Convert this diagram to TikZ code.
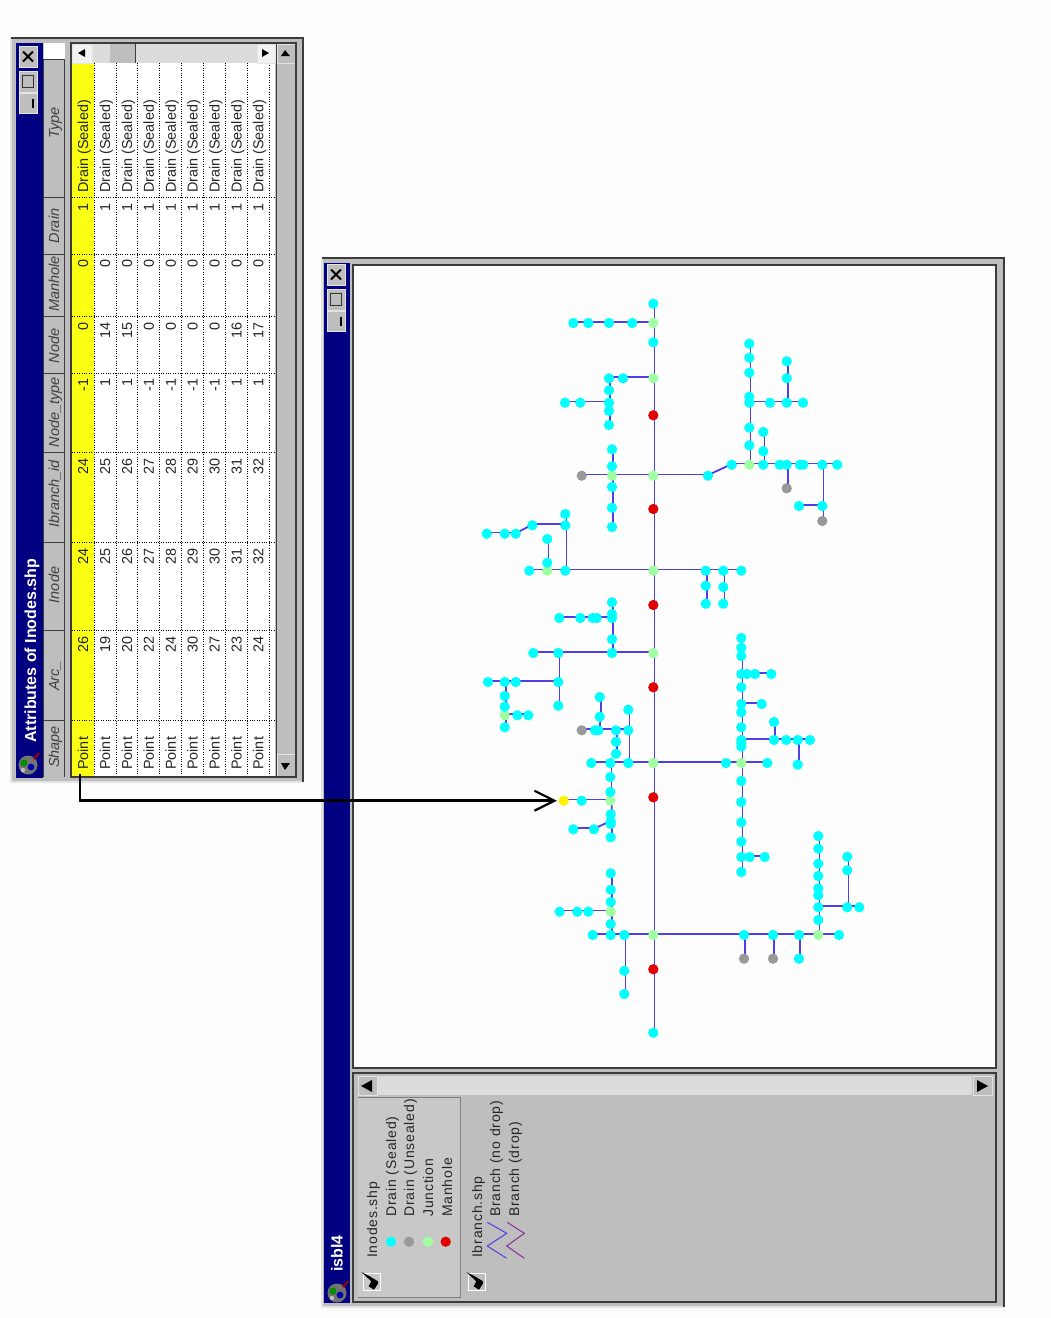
\documentclass[tikz,border=0pt]{standalone}
\usepackage{fontspec}
\setmainfont{Liberation Sans}
\newfontfamily\legendfont[LetterSpace=6]{Liberation Sans}
\usetikzlibrary{arrows.meta}

\definecolor{winnavy}{HTML}{000080}
\definecolor{wingray}{HTML}{BEBEBE}
\definecolor{windark}{HTML}{3C3C3C}
\definecolor{winpale}{HTML}{E4E4E4}
\definecolor{paper}{HTML}{FDFDFD}
\definecolor{track}{HTML}{DCDCDC}
\definecolor{rowyellow}{HTML}{FAFF14}
\definecolor{sealedc}{HTML}{00FFFF}
\definecolor{unsealedc}{HTML}{999999}
\definecolor{junctionc}{HTML}{A0FFA0}
\definecolor{manholec}{HTML}{E00000}
\definecolor{branchc}{HTML}{4F3FE6}
\definecolor{dropc}{HTML}{8A2F9C}

\pgfdeclarelayer{windows}
\pgfdeclarelayer{lines}
\pgfsetlayers{windows,lines,main}

\tikzset{
  dot/.style={circle,inner sep=0pt,minimum size=10.3pt},
  sealed/.style={dot,fill=sealedc},
  unsealed/.style={dot,fill=unsealedc},
  junction/.style={dot,fill=junctionc},
  manhole/.style={dot,fill=manholec},
  selected/.style={dot,fill=yellow},
  branch/.style={draw=branchc,line width=1.8pt,transform canvas={xshift=1.2pt,yshift=1.2pt}},
  frame/.style={fill=wingray,draw=none},
  edgedark/.style={draw=windark,line width=1.6pt},
  edgepale/.style={draw=winpale,line width=1.6pt},
  btn/.style={fill=wingray,draw=winpale,line width=.8pt},
  scrollbtn/.style={fill=wingray,draw=winpale,line width=.8pt},
  palebtn/.style={fill=black!5,draw=winpale,line width=.8pt},
  rowline/.style={draw=black,line width=.8pt,dash pattern=on 1pt off 1.4pt},
  celltext/.style={rotate=90,inner sep=0pt,text=black!85,font=\fontsize{14.4}{16}\selectfont},
  headtext/.style={rotate=90,inner sep=0pt,text=black!75,anchor=base,font=\fontsize{14.5}{16}\selectfont\itshape},
  titletext/.style={rotate=90,inner sep=0pt,text=white,anchor=base west,font=\fontsize{16}{18}\selectfont\bfseries},
  legendtext/.style={rotate=90,inner sep=0pt,text=black!85,anchor=base west,font=\fontsize{14}{16}\legendfont},
  pointer/.style={draw=black,line width=2.6pt,-{Straight Barb[length=20pt,width=20pt,line width=2.2pt]},shorten >=1.5pt},
  winbuttons/.pic={
    \draw[btn] (-9,-10.5) rectangle (9,10.5);
    \draw[btn] (-9,14.5) rectangle (9,35.5);
    \draw[btn] (-9,37) rectangle (9,57);
    \draw[black,line width=2pt] (-5,-5) -- (5,5) (-5,5) -- (5,-5);
    \draw[black!80,line width=1.8pt] (-5.5,19) rectangle (5.5,31);
    \draw[black,line width=2.2pt] (5,42) -- (5,51);
  },
  globe/.pic={
    \fill[black!55] (0,0) circle (9.5);
    \fill[green!55!black] (-4,-2) circle (3.6);
    \fill[blue!70!black] (3,2) circle (3.4);
    \fill[white!75!black] (-5,5) circle (2.2);
    \draw[red!60!black,line width=2.2pt] (6,-6) -- (11,-12);
  },
  tickbox/.pic={
    \draw[white,line width=1pt] (0,0) rectangle (17,17);
    \fill[black] (-1.7,-1) -- (6.7,3.3) -- (15,8.3) -- (15,10.7) -- (11,16.7) -- (5.7,13.3) -- (8.3,8.3) -- cycle;
  },
}

\begin{document}
\begin{tikzpicture}[x=1pt,y=-1pt]
\useasboundingbox (0,0) rectangle (1051,1318);

\begin{pgfonlayer}{windows}
\fill[paper] (0,0) rectangle (1051,1318);

% table window
\fill[frame] (11,38) rectangle (303,782);
\draw[edgepale] (11,38) -- (11,782) -- (303,782);
\draw[edgedark] (11,38) -- (303,38) -- (303,782);
\fill[winnavy] (16,43) rectangle (43,778);
\pic at (28,56.5) {winbuttons};
\pic at (28,765) {globe};
\fill[wingray] (43,43) rectangle (71,778);
\fill[white] (44,43) rectangle (65,59);
\foreach \ytop in {59,197.7,254,316.7,373,452,542,630.7,720}
  \draw[windark,line width=1pt] (43,\ytop) -- (64,\ytop);
\draw[windark,line width=1pt] (43,59) -- (43,777) (64,59) -- (64,777);
\fill[white] (71,63) rectangle (275,777);
\fill[rowyellow] (72,63) rectangle (94,777);
\foreach \xrow in {94.3,116,137.7,159.7,181.7,203.3,225.7,247.7,269.3}
  \draw[rowline] (\xrow,63) -- (\xrow,777);
\foreach \ytop in {197.7,254,316.7,373,452,542,630.7,720}
  \draw[rowline] (72,\ytop) -- (275,\ytop);
% scroll bars of the table
\fill[track] (71,43) rectangle (275,63);
\draw[palebtn] (72,44) rectangle (92,63);
\draw[palebtn] (257,44) rectangle (275,63);
\fill[wingray] (110,44) rectangle (135,63);
\draw[windark,line width=1pt] (135,44) -- (135,63);
\fill[black] (78,53) -- (85,49) -- (85,57) -- cycle;
\fill[black] (269,53) -- (262,49) -- (262,57) -- cycle;
\fill[wingray] (277,63) rectangle (296,754);
\draw[scrollbtn] (277,44) rectangle (295,63);
\draw[scrollbtn] (277,754) rectangle (295,776);
\fill[black] (285,50) -- (281,56) -- (290,56) -- cycle;
\fill[black] (285,770) -- (281,763) -- (290,763) -- cycle;
\draw[edgedark] (71,43) rectangle (296,777);
\draw[windark,line width=1pt] (276,43) -- (276,777);

% map window
\fill[frame] (322,258) rectangle (1004,1307);
\draw[edgepale] (322,258) -- (322,1307) -- (1004,1307);
\draw[edgedark] (322,258) -- (1004,258) -- (1004,1307);
\fill[winnavy] (324,263) rectangle (350,1303);
\pic at (336,274.5) {winbuttons};
\pic at (337,1293) {globe};
\fill[paper] (353,265) rectangle (996,1068);
\draw[edgedark] (353,265) rectangle (996,1068);
\fill[wingray] (353,1073) rectangle (996,1302);
\fill[track] (378,1076) rectangle (972,1095);
\draw[scrollbtn] (358,1076) rectangle (377,1095);
\draw[scrollbtn] (973,1076) rectangle (992,1095);
\fill[black] (361,1086) -- (372,1080) -- (372,1092) -- cycle;
\fill[black] (988,1086) -- (977,1080) -- (977,1092) -- cycle;
\fill[wingray!85!white] (358,1097) rectangle (460,1297);
\draw[black!50,line width=1pt] (358,1097) -- (460,1097) -- (460,1297) -- (358,1297);
\draw[edgedark] (353,1073) rectangle (996,1302);
\pic at (363,1273) {tickbox};
\pic at (468,1273) {tickbox};
\end{pgfonlayer}

% table header
\node[titletext] (tablename) at (36,743) {Attributes of Inodes.shp};
\foreach \hid/\hy/\htext in {shape/747/Shape,arc/676/Arc\_,inode/585/Inode,ibranch/494/Ibranch\_id,nodetype/412/Node\_type,node/346/Node,manhole/284/Manhole,drain/226/Drain,type/123/Type}
  \node[headtext] (head\hid) at (59,\hy) {\htext};

% table cells
\foreach \colid/\ytop/\vals in {arc/636/{26,19,20,22,24,30,27,23,24},inode/548/{24,25,26,27,28,29,30,31,32},ibranch/458/{24,25,26,27,28,29,30,31,32},nodetype/378/{-1,1,1,-1,-1,-1,-1,1,1},node/322/{0,14,15,0,0,0,0,16,17},manhole/259.5/{0,0,0,0,0,0,0,0,0},drain/203/{1,1,1,1,1,1,1,1,1}}
  \foreach \val [count=\i] in \vals {
    \pgfmathsetmacro\xrow{88.2+21.9*(\i-1)}
    \node[celltext,anchor=base east] (\colid\i) at (\xrow,\ytop) {\val};
  }
\foreach \i in {1,...,9} {
  \pgfmathsetmacro\xrow{88.2+21.9*(\i-1)}
  \node[celltext,anchor=base west] (shape\i) at (\xrow,770) {Point};
  \node[celltext,anchor=base west] (type\i) at (\xrow,193) {Drain (Sealed)};
}

% map title and legend
\node[titletext] (mapname) at (342.5,1272) {isbl4};
\node[legendtext] (lnodes) at (377,1258) {Inodes.shp};
\node[legendtext] (lsealed) at (396,1217) {Drain (Sealed)};
\node[legendtext] (lunsealed) at (414,1217) {Drain (Unsealed)};
\node[legendtext] (ljunction) at (433,1217) {Junction};
\node[legendtext] (lmanhole) at (452,1217) {Manhole};
\node[legendtext] (lbranch) at (482,1258) {Ibranch.shp};
\node[legendtext] (lnodrop) at (500,1217) {Branch (no drop)};
\node[legendtext] (ldrop) at (519,1217) {Branch (drop)};
\node[sealed] (ksealed) at (391,1241.7) {};
\node[unsealed] (kunsealed) at (409,1241.7) {};
\node[junction] (kjunction) at (428,1241.7) {};
\node[manhole] (kmanhole) at (445.7,1241.7) {};
\draw[branchc,line width=1pt] (487.3,1222.3) -- (506.7,1233.3) -- (487.3,1246) -- (506.7,1258.3);
\draw[dropc,line width=1pt] (507.3,1222.3) -- (524.3,1233.3) -- (506.7,1246) -- (524.3,1258.3);

% network: junctions, manholes, unsealed drains
\foreach \name/\x/\y in {j1/653.3/323,j2/653.3/378.3,j3/653.3/475.7,j4/653.3/570.7,j5/653.3/653,j6/653.3/763,j7/653.3/935,
  jb/612/475.7,jc/749.3/464.7,jd/547.3/570.7,je/504.7/715.3,jf/610.3/800.7,jg/741.3/763,jh/610.7/911.7,ji/818.3/935}
  \node[junction] (\name) at (\x,\y) {};
\foreach \name/\x/\y in {m1/653.3/415.3,m2/653.3/509,m3/653.3/605,m4/653.3/687.3,m5/653.3/797.3,m6/653.3/969.3}
  \node[manhole] (\name) at (\x,\y) {};
\foreach \name/\x/\y in {u1/581.7/475.7,u2/786.7/488.3,u3/822.3/521,u4/581.7/730.3,u5/744/958.7,u6/773/958.7}
  \node[unsealed] (\name) at (\x,\y) {};
\node[selected] (sel) at (563.7,800.7) {};

% network: sealed drains
\foreach \name/\x/\y in {p1/653.3/303.7,p2/653.3/342.3,p3/653.3/1032.7,
  a1/632.3/323,a2/609/323,a3/588.3/323,a4/573.3/323,
  b1/623/378.3,b2/609/378.3,b3/609/390.3,b4/609/402.7,b5/609/411,b6/609/425,b7/580.3/402.7,b8/565/402.7,
  c1/612/466.3,c2/612/449.3,c3/612/487,c4/612/507.7,c5/612/527,
  d1/708/475.7,d2/731.7/464.7,d3/763.3/464.7,d4/779.7/464.7,d5/786.7/464.7,d6/800/464.7,d7/803.3/464.7,d8/822.3/464.7,d9/837.3/464.7,
  d10/822.3/506,d11/799/506,d12/763.3/451.3,d13/763.3/432,
  e1/749.3/445.3,e2/749.3/427.7,e3/749.3/402.7,e4/749.3/396.7,e5/749.3/372.7,e6/749.3/357.7,e7/749.3/343.7,
  e8/770/402.7,e9/786.7/402.7,e10/803/402.7,e11/786.7/378.3,e12/786.7/361.3,
  f1/565.3/570.7,f2/529.3/570.7,f3/565.3/525.3,f4/565.3/514,f5/532.3/525.3,f6/515.7/533.7,f7/504.7/533.7,f8/486.7/533.7,f9/547.3/562.7,f10/547.3/539,
  g1/705.7/570.7,g2/723.3/570.7,g3/741.3/570.7,g4/705.7/585.7,g5/705.7/603.7,g6/723.3/587,g7/723.3/603.7,
  h1/612/653,h2/558.3/653,h3/533.3/653,h4/612/639.3,h5/612/618,h6/612/614,h7/612/602.3,h8/596.7/618,h9/592.7/618,h10/580.3/618,h11/559.3/618,
  h12/558.3/682,h13/558.3/705.7,h14/515.7/682,h15/504.7/682,h16/488/682,h17/504.7/696,h18/504.7/706.7,h19/504.7/727.3,h20/517.3/715.3,h21/528.3/715.3,
  k1/628.3/763,k2/610.3/763,k3/591.3/763,k4/628.3/730.3,k5/628.3/709.7,k6/616/730.3,k7/598.3/730.3,k8/595/730.3,k9/616/741.7,k10/616/753.7,k11/599.7/716.7,k12/599.7/697,
  k13/610.3/777,k14/610.3/792,k15/581.7/800.7,k16/610.7/814.3,k17/610.7/821.7,k18/610.7/824,k19/610.7/837.3,k20/594/829.3,k21/573.3/829.3,
  l1/726/763,l2/767.3/763,l3/741.3/746.5,l4/741.3/743,l5/741.3/740,l6/741.3/727.3,l7/741.3/712.3,l8/741.3/704,l9/741.3/687.3,l10/741.3/674,l11/741.3/656,l12/741.3/647.7,l13/741.3/638,
  l14/761.7/704,l15/746.7/674,l16/755/674,l17/771.3/674,l18/774/740,l19/786.3/740,l20/797.7/740,l21/810/740,l22/774/722,l23/797.7/764.7,
  l24/741.3/781,l25/741.3/802,l26/741.3/822.3,l27/741.3/841.7,l28/741.3/857,l29/741.3/872,l30/749.7/857,l31/764.7/857,
  q1/624.3/935,q2/610.7/935,q3/592.7/935,q4/610.7/924,q5/610.7/902,q6/610.7/889.7,q7/610.7/873.3,q8/588.3/911.7,q9/577.3/911.7,q10/559.7/911.7,q11/624.3/970.7,q12/624.3/994,
  r1/744/935,r2/773/935,r3/799/935,r4/839/935,r5/799/958.7,r6/818.3/920,r7/818.3/907.3,r8/818.3/895.3,r9/818.3/888.3,r10/818.3/876,r11/818.3/863.7,r12/818.3/848.7,r13/818.3/836,
  r14/847.3/907.3,r15/859.3/907.3,r16/847.3/870.3,r17/847.3/856.7}
  \node[sealed] (\name) at (\x,\y) {};

% network: branches
\begin{pgfonlayer}{lines}
\foreach \a/\b in {p1/j1,j1/p2,p2/j2,j2/m1,m1/j3,j3/m2,m2/j4,j4/m3,m3/j5,j5/m4,m4/j6,j6/m5,m5/j7,j7/m6,m6/p3,
  j1/a1,a1/a2,a2/a3,a3/a4,
  j2/b1,b1/b2,b2/b3,b3/b4,b4/b5,b5/b6,b4/b7,b7/b8,
  j3/jb,jb/u1,jb/c1,c1/c2,jb/c3,c3/c4,c4/c5,
  j3/d1,d1/d2,d2/jc,jc/d3,d3/d4,d4/d5,d5/d6,d6/d7,d7/d8,d8/d9,d5/u2,d8/d10,d10/u3,d10/d11,d3/d12,d12/d13,
  jc/e1,e1/e2,e2/e3,e3/e4,e4/e5,e5/e6,e6/e7,e3/e8,e8/e9,e9/e10,e9/e11,e11/e12,
  j4/f1,f1/jd,jd/f2,f1/f3,f3/f4,f3/f5,f5/f6,f6/f7,f7/f8,jd/f9,f9/f10,
  j4/g1,g1/g2,g2/g3,g1/g4,g4/g5,g2/g6,g6/g7,
  j5/h1,h1/h2,h2/h3,h1/h4,h4/h5,h5/h6,h6/h7,h5/h8,h8/h9,h9/h10,h10/h11,h2/h12,h12/h13,h12/h14,h14/h15,h15/h16,h15/h17,h17/h18,h18/je,je/h19,je/h20,h20/h21,
  j6/k1,k1/k2,k2/k3,k1/k4,k4/k5,k4/k6,k6/k7,k7/k8,k8/u4,k6/k9,k9/k10,k7/k11,k11/k12,k2/k13,k13/k14,k14/jf,jf/k16,k16/k17,k17/k18,k18/k19,jf/k15,k15/sel,k17/k20,k20/k21,
  j6/l1,l1/jg,jg/l2,jg/l3,l3/l4,l4/l5,l5/l6,l6/l7,l7/l8,l8/l9,l9/l10,l10/l11,l11/l12,l12/l13,l8/l14,l10/l15,l15/l16,l16/l17,l5/l18,l18/l19,l19/l20,l20/l21,l18/l22,l20/l23,
  jg/l24,l24/l25,l25/l26,l26/l27,l27/l28,l28/l29,l28/l30,l30/l31,
  j7/q1,q1/q2,q2/q3,q2/q4,q4/jh,jh/q5,q5/q6,q6/q7,jh/q8,q8/q9,q9/q10,q1/q11,q11/q12,
  j7/r1,r1/r2,r2/r3,r3/ji,ji/r4,r1/u5,r2/u6,r3/r5,ji/r6,r6/r7,r7/r8,r8/r9,r9/r10,r10/r11,r11/r12,r12/r13,r7/r14,r14/r15,r14/r16,r16/r17}
  \draw[branch] (\a.center) -- (\b.center);
\end{pgfonlayer}

% link from the selected row to its node
\coordinate (rowlink) at (80,774);
\draw[pointer] (rowlink) |- (sel.west);

\end{tikzpicture}
\end{document}
